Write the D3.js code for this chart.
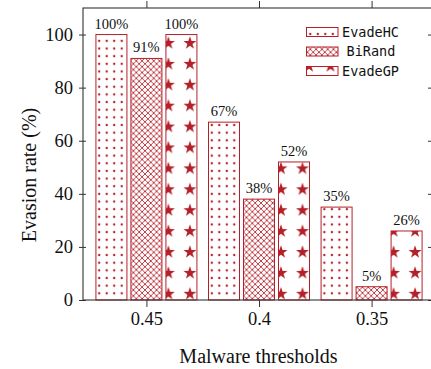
<!DOCTYPE html>
<html>
<head>
<meta charset="utf-8">
<script src="https://cdn.jsdelivr.net/npm/d3@7"></script>
<style>
  html, body { margin: 0; padding: 0; background: #fff; }
  svg { display: block; }
</style>
</head>
<body>
<svg id="chart" width="431" height="369"></svg>
<script>
// Evasion rate per malware threshold for three attack methods
const thresholds = ["0.45", "0.4", "0.35"];
const methods = ["EvadeHC", "BiRand", "EvadeGP"];
const evadeHC = [100, 67, 35];
const biRand = [91, 38, 5];
const evadeGP = [100, 52, 26];
const yTickValues = [0, 20, 40, 60, 80, 100];

const seriesValues = [evadeHC, biRand, evadeGP];
const RED = "#b51f28";
const AXIS = "#333";
const SERIF = "'Liberation Serif', 'Times New Roman', serif";
const MONO = "'DejaVu Sans Mono', monospace";

const plot = { left: 83, right: 432, top: 8, bottom: 300 };

const svg = d3.select("#chart");
const defs = svg.append("defs");

// group positions along the x axis
const x = d3.scalePoint()
  .domain(thresholds)
  .range([plot.left + 1.5, plot.right + 1.5])
  .padding(0.55);

// bar offset inside each group
const xInner = d3.scaleBand()
  .domain(methods)
  .range([-50.5, 50.5])
  .paddingInner(4 / 35)
  .paddingOuter(0);

const y = d3.scaleLinear().domain([0, 110]).range([plot.bottom, plot.top]);

// ---- fill patterns ----
// crosshatch (shared)
const hs = 5.8;
const cross = defs.append("pattern")
  .attr("id", "pat-cross")
  .attr("patternUnits", "userSpaceOnUse")
  .attr("width", hs).attr("height", hs);
cross.append("rect").attr("width", hs).attr("height", hs).attr("fill", "#fff");
cross.append("path")
  .attr("d", `M-1,-1L${hs + 1},${hs + 1}M${hs + 1},-1L-1,${hs + 1}`)
  .attr("stroke", RED).attr("stroke-width", 0.85).attr("fill", "none");

// five-pointed star outline
function starPath(cx, cy, ro, ri) {
  const pts = [];
  for (let k = 0; k < 10; k++) {
    const r = k % 2 === 0 ? ro : ri;
    const a = -Math.PI / 2 + k * Math.PI / 5;
    pts.push([cx + r * Math.cos(a), cy + r * Math.sin(a)]);
  }
  return "M" + pts.map(p => p.join(",")).join("L") + "Z";
}

// dots anchored at a bar's lower-left corner
function dotPattern(id, x0, yBase) {
  const w = 7.5, h = 7.65;
  const p = defs.append("pattern")
    .attr("id", id)
    .attr("patternUnits", "userSpaceOnUse")
    .attr("width", w).attr("height", h)
    .attr("patternTransform", `translate(${x0 + 3.3 - w / 2},${yBase - 6.7 - h / 2})`);
  p.append("rect").attr("width", w).attr("height", h).attr("fill", "#fff");
  p.append("circle").attr("cx", w / 2).attr("cy", h / 2).attr("r", 1.2).attr("fill", RED);
}

// stars anchored at a bar's lower-left corner
function starPattern(id, x0, yBase) {
  const w = 21.5, h = 20.9;
  const p = defs.append("pattern")
    .attr("id", id)
    .attr("patternUnits", "userSpaceOnUse")
    .attr("width", w).attr("height", h)
    .attr("patternTransform", `translate(${x0 + 2.5 - w / 2},${yBase - 6.7 - h / 2})`);
  p.append("rect").attr("width", w).attr("height", h).attr("fill", "#fff");
  p.append("path").attr("d", starPath(w / 2, h / 2 + 0.6, 6.8, 2.7)).attr("fill", RED);
}

function fillFor(methodIndex, id, x0, yBase) {
  if (methodIndex === 0) { dotPattern(id, x0, yBase); return `url(#${id})`; }
  if (methodIndex === 1) { return "url(#pat-cross)"; }
  starPattern(id, x0, yBase);
  return `url(#${id})`;
}

// ---- bars ----
const bars = [];
methods.forEach((m, mi) => {
  thresholds.forEach((t, ti) => {
    bars.push({ method: m, mi, threshold: t, value: seriesValues[mi][ti] });
  });
});

const gBars = svg.append("g");
bars.forEach((d, i) => {
  const bx = x(d.threshold) + xInner(d.method);
  const bw = xInner.bandwidth();
  const top = y(d.value);
  const fill = fillFor(d.mi, `pat-bar-${i}`, bx, y(0));
  gBars.append("rect")
    .attr("x", bx).attr("y", top)
    .attr("width", bw).attr("height", y(0) - top)
    .attr("fill", fill)
    .attr("stroke", RED).attr("stroke-width", 1);
  gBars.append("text")
    .attr("x", bx + bw / 2).attr("y", top - 6)
    .attr("text-anchor", "middle")
    .attr("font-family", SERIF).attr("font-size", 14.5)
    .attr("fill", "#111")
    .text(d.value + "%");
});

// ---- axes ----
const xAxisBottom = d3.axisBottom(x).tickSizeInner(7).tickSizeOuter(0).tickPadding(6);
const gxb = svg.append("g").attr("transform", `translate(0,${plot.bottom})`).call(xAxisBottom);
gxb.select(".domain").remove();
gxb.selectAll("line").attr("stroke", AXIS);
gxb.selectAll("text")
  .attr("font-family", SERIF).attr("font-size", 18.5).attr("fill", "#111")
  .attr("dy", "0.71em").attr("y", 12);

const xAxisTop = d3.axisTop(x).tickSizeInner(7).tickSizeOuter(0).tickFormat("");
const gxt = svg.append("g").attr("transform", `translate(0,${plot.top})`).call(xAxisTop);
gxt.select(".domain").remove();
gxt.selectAll("line").attr("stroke", AXIS);

const yAxisLeft = d3.axisLeft(y).tickValues(yTickValues).tickSizeInner(4).tickSizeOuter(0).tickPadding(6);
const gyl = svg.append("g").attr("transform", `translate(${plot.left},0)`).call(yAxisLeft);
gyl.select(".domain").remove();
gyl.selectAll("line").attr("stroke", AXIS).attr("x1", 3);
gyl.selectAll("text").attr("font-family", SERIF).attr("font-size", 18.5).attr("fill", "#111");

const yAxisRight = d3.axisRight(y).tickValues(yTickValues).tickSizeInner(4).tickSizeOuter(0).tickFormat("");
const gyr = svg.append("g").attr("transform", `translate(${plot.right},0)`).call(yAxisRight);
gyr.select(".domain").remove();
gyr.selectAll("line").attr("stroke", AXIS).attr("x1", -4);

// frame
svg.append("rect")
  .attr("x", plot.left).attr("y", plot.top)
  .attr("width", plot.right - plot.left).attr("height", plot.bottom - plot.top)
  .attr("fill", "none").attr("stroke", AXIS).attr("stroke-width", 1.1);

// axis titles
svg.append("text")
  .attr("x", (plot.left + plot.right) / 2 + 1).attr("y", 362.5)
  .attr("text-anchor", "middle")
  .attr("font-family", SERIF).attr("font-size", 20).attr("fill", "#111")
  .text("Malware thresholds");

svg.append("text")
  .attr("transform", `translate(35.5,${(plot.top + plot.bottom) / 2 + 21}) rotate(-90)`)
  .attr("text-anchor", "middle")
  .attr("font-family", SERIF).attr("font-size", 20).attr("fill", "#111")
  .text("Evasion rate (%)");

// ---- legend ----
const legend = svg.append("g");
const legendRows = [32, 51.5, 71];
methods.forEach((m, mi) => {
  const cy = legendRows[mi];
  const sx = 306.5, sw = 31.5, sh = 9;
  let fill;
  if (mi === 0) { dotPattern("pat-leg-0", sx + 0.5, cy + 1); fill = "url(#pat-leg-0)"; }
  else if (mi === 1) { fill = "url(#pat-cross)"; }
  else { starPattern("pat-leg-2", sx, cy + 1.2); fill = "url(#pat-leg-2)"; }
  legend.append("rect")
    .attr("x", sx).attr("y", cy - sh / 2)
    .attr("width", sw).attr("height", sh)
    .attr("fill", fill).attr("stroke", RED).attr("stroke-width", 1);
  legend.append("text")
    .attr("x", mi === 1 ? 346.5 : 342).attr("y", cy)
    .attr("dy", "0.36em")
    .attr("font-family", MONO).attr("font-size", 13.5).attr("fill", "#111")
    .text(m);
});
</script>
</body>
</html>
